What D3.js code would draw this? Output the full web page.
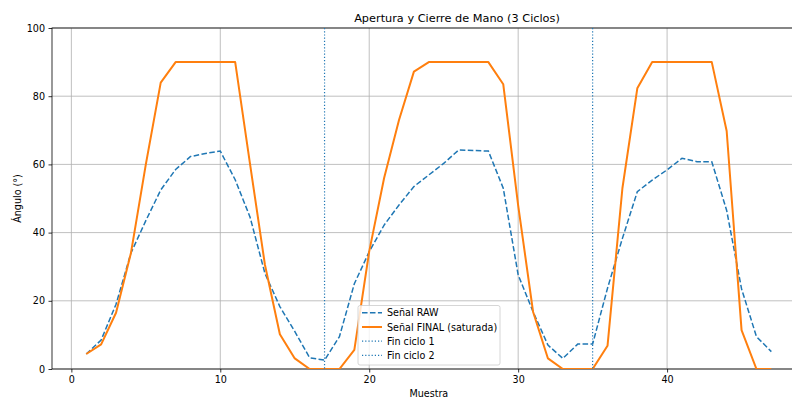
<!DOCTYPE html>
<html>
<head>
<meta charset="utf-8">
<script src="https://cdn.jsdelivr.net/npm/d3@7"></script>
<style>
  body { margin: 0; background: #fff; }
  svg { display: block; font-family: "DejaVu Sans", sans-serif; }
</style>
</head>
<body>
<svg id="chart" width="792" height="398"></svg>
<script>
"use strict";

// Muestras y señales
var muestras = d3.range(1, 48);
var senalRaw = [4.4, 8.5, 19, 34, 43.5, 52.5, 58.5, 62.3, 63.2, 63.9,
                55.5, 44.5, 28, 18.3, 11, 3.3, 2.6, 9.5, 25, 34.4,
                42.2, 48.1, 53.5, 56.9, 60.3, 64.2, 64.1, 63.9, 53, 27.6,
                16.8, 7, 3.1, 7.3, 7.3, 23.7, 38.3, 52, 55.4, 58.4,
                61.8, 60.8, 60.8, 46.5, 23.5, 9.5, 5.1];
var senalFinal = [4.4, 7.2, 16.5, 34, 60, 84, 90, 90, 90, 90,
                  90, 60, 30.5, 10.2, 3.1, 0, 0, 0, 5.6, 34.5,
                  56, 73, 87.2, 90, 90, 90, 90, 90, 83.5, 48,
                  16.8, 3.1, 0, 0, 0, 6.8, 53, 82.3, 90, 90,
                  90, 90, 90, 69.8, 11.4, 0, 0];
var finCiclos = [17, 35];
var xTicks = [0, 10, 20, 30, 40];
var yTicks = [0, 20, 40, 60, 80, 100];

var svg = d3.select("#chart");
var izq = 52, arriba = 28, abajo = 369, der = 805.6;
var fuente = 9.6;

var x = d3.scaleLinear().domain([-1.3, 49.3]).range([izq, der]);
var y = d3.scaleLinear().domain([0, 100]).range([abajo, arriba]);

svg.append("clipPath").attr("id", "clip")
    .append("rect").attr("x", izq).attr("y", arriba)
    .attr("width", der - izq).attr("height", abajo - arriba);

// Rejilla
var rejilla = svg.append("g").attr("stroke", "#b0b0b0").attr("stroke-width", 0.8);
rejilla.selectAll("line.gx").data(xTicks).enter().append("line")
    .attr("x1", (d) => x(d)).attr("x2", (d) => x(d))
    .attr("y1", arriba).attr("y2", abajo);
rejilla.selectAll("line.gy").data(yTicks).enter().append("line")
    .attr("x1", izq).attr("x2", der)
    .attr("y1", (d) => y(d)).attr("y2", (d) => y(d));

// Ejes
var ejeX = svg.append("g").attr("transform", "translate(0," + abajo + ")")
    .call(d3.axisBottom(x).tickValues(xTicks).tickSize(3.5).tickPadding(3.5).tickSizeOuter(0));
var ejeY = svg.append("g").attr("transform", "translate(" + izq + ",0)")
    .call(d3.axisLeft(y).tickValues(yTicks).tickSize(3.5).tickPadding(3.5).tickSizeOuter(0));
[ejeX, ejeY].forEach(function (g) {
    g.select(".domain").remove();
    g.selectAll("line").attr("stroke", "#000").attr("stroke-width", 0.8);
    g.selectAll("text").attr("font-size", fuente).attr("fill", "#000")
        .attr("font-family", "DejaVu Sans, sans-serif");
});

// Marco
svg.append("rect").attr("x", izq).attr("y", arriba)
    .attr("width", der - izq).attr("height", abajo - arriba)
    .attr("fill", "none").attr("stroke", "#000").attr("stroke-width", 0.8);

var linea = d3.line().x((d) => x(d[0])).y((d) => y(d[1]));
var trazos = svg.append("g").attr("clip-path", "url(#clip)");

trazos.append("path")
    .datum(muestras.map((m, i) => [m, senalRaw[i]]))
    .attr("d", linea).attr("fill", "none")
    .attr("stroke", "#1f77b4").attr("stroke-width", 1.5)
    .attr("stroke-dasharray", "5.55,2.4");

trazos.append("path")
    .datum(muestras.map((m, i) => [m, senalFinal[i]]))
    .attr("d", linea).attr("fill", "none")
    .attr("stroke", "#ff7f0e").attr("stroke-width", 2)
    .attr("stroke-linejoin", "round");

trazos.selectAll("line.fin").data(finCiclos).enter().append("line")
    .attr("x1", (d) => x(d)).attr("x2", (d) => x(d))
    .attr("y1", arriba).attr("y2", abajo)
    .attr("stroke", "#1f77b4").attr("stroke-width", 1.2)
    .attr("stroke-dasharray", "1.2,2");

// Títulos
svg.append("text").attr("x", 457).attr("y", 22).attr("text-anchor", "middle")
    .attr("font-size", 11.3).text("Apertura y Cierre de Mano (3 Ciclos)");
svg.append("text").attr("x", (izq + der) / 2).attr("y", 396.5).attr("text-anchor", "middle")
    .attr("font-size", fuente).text("Muestra");
svg.append("text").attr("transform", "translate(21," + ((arriba + abajo) / 2) + ") rotate(-90)")
    .attr("text-anchor", "middle").attr("font-size", fuente).text("Ángulo (°)");

// Leyenda
var leyenda = [
    { nombre: "Señal RAW", color: "#1f77b4", ancho: 1.5, guion: "5.55,2.4" },
    { nombre: "Señal FINAL (saturada)", color: "#ff7f0e", ancho: 2, guion: null },
    { nombre: "Fin ciclo 1", color: "#1f77b4", ancho: 1.2, guion: "1.2,2" },
    { nombre: "Fin ciclo 2", color: "#1f77b4", ancho: 1.2, guion: "1.2,2" }
];
var lx = 358, ly = 305.5;
svg.append("rect").attr("x", lx).attr("y", ly).attr("width", 142).attr("height", 59.5)
    .attr("rx", 2).attr("fill", "#fff").attr("fill-opacity", 0.8)
    .attr("stroke", "#cccccc").attr("stroke-width", 0.8);
var filas = svg.selectAll("g.fila").data(leyenda).enter().append("g")
    .attr("transform", (d, i) => "translate(" + lx + "," + (ly + 7.3 + i * 14.2) + ")");
filas.append("line").attr("x1", 4).attr("x2", 24).attr("y1", 0).attr("y2", 0)
    .attr("stroke", (d) => d.color).attr("stroke-width", (d) => d.ancho)
    .attr("stroke-dasharray", (d) => d.guion);
filas.append("text").attr("x", 29).attr("y", 3.5).attr("font-size", fuente)
    .text((d) => d.nombre);
</script>
</body>
</html>
